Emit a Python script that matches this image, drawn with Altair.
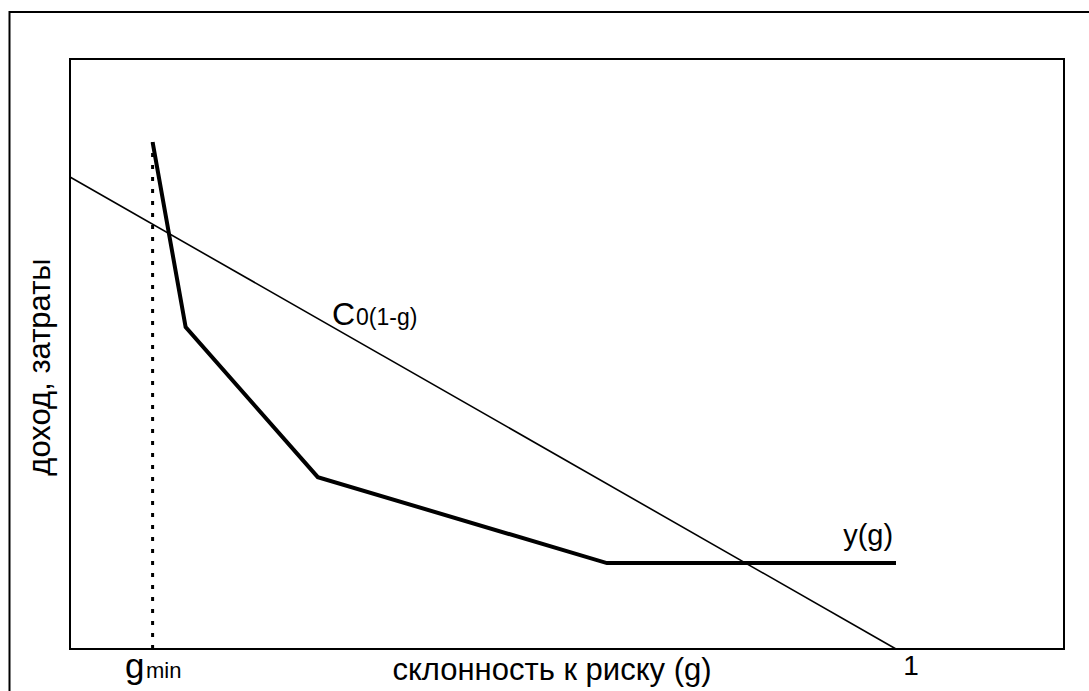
import altair as alt
import pandas as pd

# ---- data ----
g_curve = [0.1, 0.14, 0.3, 0.65, 1.0]          # y(g) polyline, g values
y_curve = [1.074, 0.682, 0.364, 0.182, 0.182]  # y(g) polyline, values
g_cost = [0.0, 1.0]                            # C0(1-g) line
y_cost = [1.0, 0.0]
g_min = 0.1
g_min_top = 1.074

X_DOMAIN = [0, 1.2034]
Y_DOMAIN = [0, 1.25]
FONT = "Liberation Sans"

xs = alt.Scale(domain=X_DOMAIN, nice=False, zero=False)
ys = alt.Scale(domain=Y_DOMAIN, nice=False, zero=False)

curve_df = pd.DataFrame({"g": g_curve, "y": y_curve, "o": range(len(g_curve))})
cost_df = pd.DataFrame({"g": g_cost, "y": y_cost, "o": range(len(g_cost))})
dot_df = pd.DataFrame({"g": [g_min], "y": [0.0], "y2": [g_min_top]})

# in-plot labels
lab_df = pd.DataFrame({
    "g": [0.3172, 0.3463, 0.936],
    "y": [0.6864, 0.6864, 0.220],
    "t": ["C", "0(1-g)", "y(g)"],
    "s": [32, 23, 29],
})

one = alt.Data(values=[{}])

box = alt.Chart(one).mark_rect(fillOpacity=0, stroke="black", strokeWidth=2).encode(
    x=alt.value(-60.5), x2=alt.value(1100), y=alt.value(-47), y2=alt.value(700)
)

cost = alt.Chart(cost_df).mark_line(color="black", strokeWidth=1.6).encode(
    x=alt.X("g:Q", scale=xs, axis=None),
    y=alt.Y("y:Q", scale=ys, axis=None),
    order="o:O",
)

curve = alt.Chart(curve_df).mark_line(color="black", strokeWidth=4, strokeJoin="miter").encode(
    x=alt.X("g:Q", scale=xs, axis=None),
    y=alt.Y("y:Q", scale=ys, axis=None),
    order="o:O",
)

dots = alt.Chart(dot_df).mark_rule(color="black", strokeWidth=3, strokeDash=[4, 8]).encode(
    x=alt.X("g:Q", scale=xs, axis=None),
    y=alt.Y("y:Q", scale=ys, axis=None),
    y2="y2:Q",
)

labels = alt.Chart(lab_df).mark_text(align="left", baseline="alphabetic", font=FONT, color="black").encode(
    x=alt.X("g:Q", scale=xs, axis=None),
    y=alt.Y("y:Q", scale=ys, axis=None),
    text="t:N",
    size=alt.Size("s:Q", scale=None, legend=None),
)

def ptext(txt, x, y, size, align="left", angle=0):
    return alt.Chart(one).mark_text(
        text=txt, align=align, baseline="alphabetic", font=FONT, fontSize=size,
        angle=angle, color="black"
    ).encode(x=alt.value(x), y=alt.value(y))

t_g = ptext("g", 55, 619, 35)
t_min = ptext("min", 76, 619, 22)
t_one = ptext("1", 841, 616, 28, align="center")
t_xtitle = ptext("склонность к риску (g)", 482, 621, 31, align="center")
t_ytitle = ptext("доход, затраты", -20, 308, 31, align="center", angle=270)

chart = alt.layer(
    box, cost, curve, dots, labels, t_g, t_min, t_one, t_xtitle, t_ytitle
).properties(
    width=994, height=590,
    padding={"left": 70, "top": 59, "right": 25, "bottom": 42},
    autosize="none",
    background="white",
).configure_view(stroke="black", strokeWidth=2)

chart.save("out.html", embed_options={"renderer": "svg", "actions": False})
